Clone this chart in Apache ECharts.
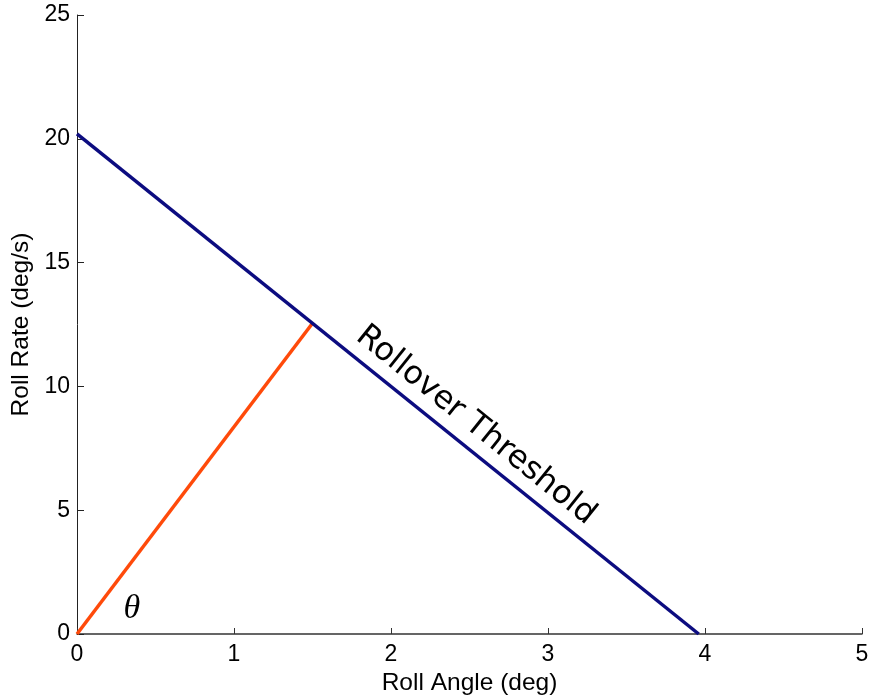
<!DOCTYPE html>
<html>
<head>
<meta charset="utf-8">
<script src="https://cdn.jsdelivr.net/npm/echarts@6/dist/echarts.min.js"></script>
<style>
  html, body { margin: 0; padding: 0; background: #fff; }
  #chart { width: 871px; height: 698px; }
</style>
</head>
<body>
<div id="chart"></div>
<script>
// Rollover threshold line: roll rate limit vs roll angle
const thresholdAngle = [0, 3.96];
const thresholdRate = [20.2, 0];

// Vehicle state vector from origin to the threshold
const stateAngle = [0, 1.5];
const stateRate = [0, 12.55];

const xTicks = [0, 1, 2, 3, 4, 5];
const yTicks = [0, 5, 10, 15, 20, 25];

const thresholdLabel = 'Rollover Threshold';
const angleSymbol = 'θ';
const thetaPos = [0.35, 1.0];
const labelPos = [2.54, 8.42];

const zip = (a, b) => a.map((v, i) => [v, b[i]]);

const chart = echarts.init(document.getElementById('chart'));
const tickFont = { fontFamily: 'Liberation Sans', fontSize: 23, color: '#000' };
const titleFont = { fontFamily: 'Liberation Sans', fontSize: 24.5, color: '#000' };

chart.setOption({
  animation: false,
  backgroundColor: '#fff',
  grid: { left: 77, right: 9, top: 15, bottom: 64, containLabel: false, outerBoundsMode: 'none' },
  xAxis: {
    type: 'value',
    min: xTicks[0], max: xTicks[xTicks.length - 1], interval: 1,
    name: 'Roll Angle (deg)', nameLocation: 'middle', nameGap: 35,
    nameTextStyle: titleFont,
    axisLine: { lineStyle: { color: '#333', width: 1.5 } },
    axisTick: { inside: true, length: 6, lineStyle: { color: '#333' } },
    axisLabel: Object.assign({ margin: 9, formatter: v => String(v) }, tickFont),
    splitLine: { show: false }
  },
  yAxis: {
    type: 'value',
    min: yTicks[0], max: yTicks[yTicks.length - 1], interval: 5,
    name: 'Roll Rate (deg/s)', nameLocation: 'middle', nameGap: 41,
    nameTextStyle: titleFont,
    axisLine: { show: true, lineStyle: { color: '#222', width: 1 } },
    axisTick: { show: true, inside: true, length: 7, lineStyle: { color: '#222' } },
    axisLabel: Object.assign({ margin: 7, formatter: v => String(v) }, tickFont),
    splitLine: { show: false }
  },
  series: [
    {
      type: 'line',
      data: zip(thresholdAngle, thresholdRate),
      symbol: 'none',
      lineStyle: { color: '#0c0c80', width: 3.5 },
      z: 3
    },
    {
      type: 'line',
      data: zip(stateAngle, stateRate),
      symbol: 'none',
      lineStyle: { color: '#ff4a0a', width: 3.5 },
      z: 2
    }
  ]
});

// Annotations anchored in data space
const p0 = chart.convertToPixel({ gridIndex: 0 }, [thresholdAngle[0], thresholdRate[0]]);
const p1 = chart.convertToPixel({ gridIndex: 0 }, [thresholdAngle[1], thresholdRate[1]]);
const angle = Math.atan2(p1[1] - p0[1], p1[0] - p0[0]);
const lp = chart.convertToPixel({ gridIndex: 0 }, labelPos);
const tp = chart.convertToPixel({ gridIndex: 0 }, thetaPos);

chart.setOption({
  graphic: [
    {
      type: 'text',
      x: lp[0], y: lp[1],
      rotation: -angle,
      style: {
        text: thresholdLabel,
        fontFamily: 'DejaVu Sans',
        fontSize: 32,
        fill: '#000',
        align: 'center',
        verticalAlign: 'middle'
      }
    },
    {
      type: 'text',
      x: tp[0], y: tp[1],
      style: {
        text: angleSymbol,
        fontFamily: 'Liberation Serif',
        fontStyle: 'italic',
        fontSize: 34,
        fill: '#000',
        align: 'center',
        verticalAlign: 'middle'
      }
    }
  ]
});
</script>
</body>
</html>
